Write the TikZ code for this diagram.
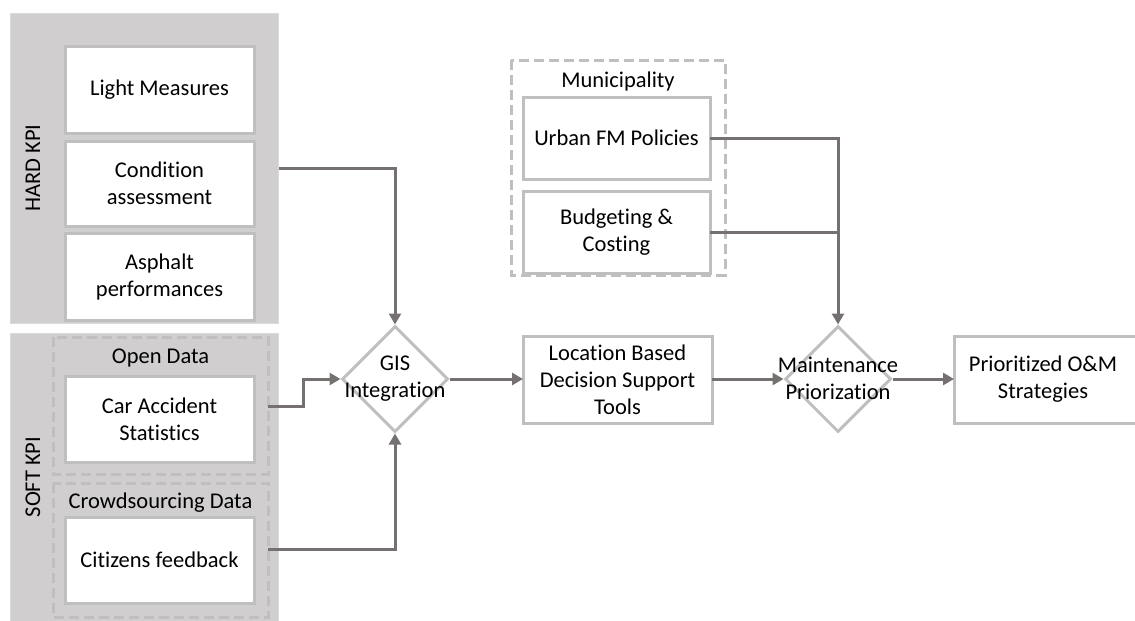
\documentclass[tikz,border=0pt]{standalone}
\usepackage{fontspec}
\setmainfont{Carlito}[RawFeature=-liga, RawFeature=-clig, RawFeature=-dlig, RawFeature=-calt]
\usetikzlibrary{shapes.geometric,arrows.meta}
\definecolor{panelfill}{HTML}{D0CECE}
\definecolor{panelline}{HTML}{DCDADA}
\definecolor{boxline}{HTML}{BFBFBF}
\definecolor{arrowcol}{HTML}{767171}
\tikzset{
  panel/.style={fill=panelfill, draw=panelline, line width=1pt},
  whitebox/.style={draw=boxline, fill=white, line width=3pt},
  dashbox/.style={draw=boxline, line width=3pt, dash pattern=on 10pt off 5pt},
  txt/.style={align=center, font=\fontsize{22.5}{27}\selectfont, inner sep=0pt},
  gateway/.style={diamond, draw=boxline, fill=white, line width=3pt, minimum width=106pt, minimum height=106pt, inner sep=0pt},
  flow/.style={draw=arrowcol, line width=3pt, -{Triangle[length=11pt,width=12pt]}},
  flowline/.style={draw=arrowcol, line width=3pt},
}
\begin{document}
\begin{tikzpicture}[x=1pt,y=-1pt]
\useasboundingbox (0,0) rectangle (1135,621);
% panels
\draw[panel] (10,13) rectangle (278,323);
\draw[panel] (10,333) rectangle (278,630);
\node[txt, rotate=90] (hardlbl) at (33,168) {HARD KPI};
\node[txt, rotate=90] (softlbl) at (33,477) {SOFT KPI};
% hard boxes
\path[whitebox] (65,46) rectangle (254,133);
\node[txt] (light) at (159.5,89.5) {Light Measures};
\path[whitebox] (65,141) rectangle (254,226);
\node[txt] (cond) at (159.5,183.5) {Condition\\assessment};
\path[whitebox] (65,233) rectangle (254,320);
\node[txt] (asph) at (159.5,276.5) {Asphalt\\performances};
% soft
\draw[dashbox] (53,337) rectangle (268,474);
\node[txt] (opendata) at (160.5,358) {Open Data};
\path[whitebox] (65,376) rectangle (254,462);
\node[txt] (car) at (159.5,419) {Car Accident\\Statistics};
\draw[dashbox] (53,483) rectangle (268,617);
\node[txt] (crowd) at (160.5,503) {Crowdsourcing Data};
\path[whitebox] (65,517) rectangle (254,603);
\node[txt] (cit) at (159.5,560) {Citizens feedback};
% municipality
\draw[dashbox] (511,60) rectangle (725,275);
\node[txt] (muni) at (618,82) {Municipality};
\path[whitebox] (523,97) rectangle (710,179);
\node[txt] (urban) at (616.5,138) {Urban FM Policies};
\path[whitebox] (523,191) rectangle (710,273);
\node[txt] (budget) at (616.5,232) {Budgeting \&\\Costing};
% main flow
\node[gateway] (gis) at (395,379) {};
\node[txt] (gistxt) at (395,379) {GIS\\Integration};
\path[whitebox] (523,336) rectangle (712,423);
\node[txt] (loc) at (617.5,379.5) {Location Based\\Decision Support\\Tools};
\node[gateway] (maint) at (838,379) {};
\node[txt] (mainttxt) at (838,378) {Maintenance\\Priorization};
\path[whitebox] (954,336) rectangle (1150,423);
\node[txt] (prio) at (1043,379) {Prioritized O\&M\\Strategies};
% coordinates
\coordinate (hardout) at (279,168);
\coordinate (carout) at (268,406);
\coordinate (citout) at (268,549);
\coordinate (urbout) at (710,138);
\coordinate (budout) at (710,232);
\coordinate (locin) at (523,379);
\coordinate (locout) at (712,379);
\coordinate (prioin) at (954,379);
% connectors
\draw[flow] (hardout) -| (gis.north);
\draw[flow] (carout) -- (303,406) |- (gis.west);
\draw[flow] (citout) -| (gis.south);
\draw[flow] (gis.east) -- (locin);
\draw[flow] (locout) -- (maint.west);
\draw[flow] (maint.east) -- (prioin);
\draw[flowline] (budout) -- (838,232);
\draw[flow] (urbout) -| (maint.north);
\end{tikzpicture}
\end{document}
